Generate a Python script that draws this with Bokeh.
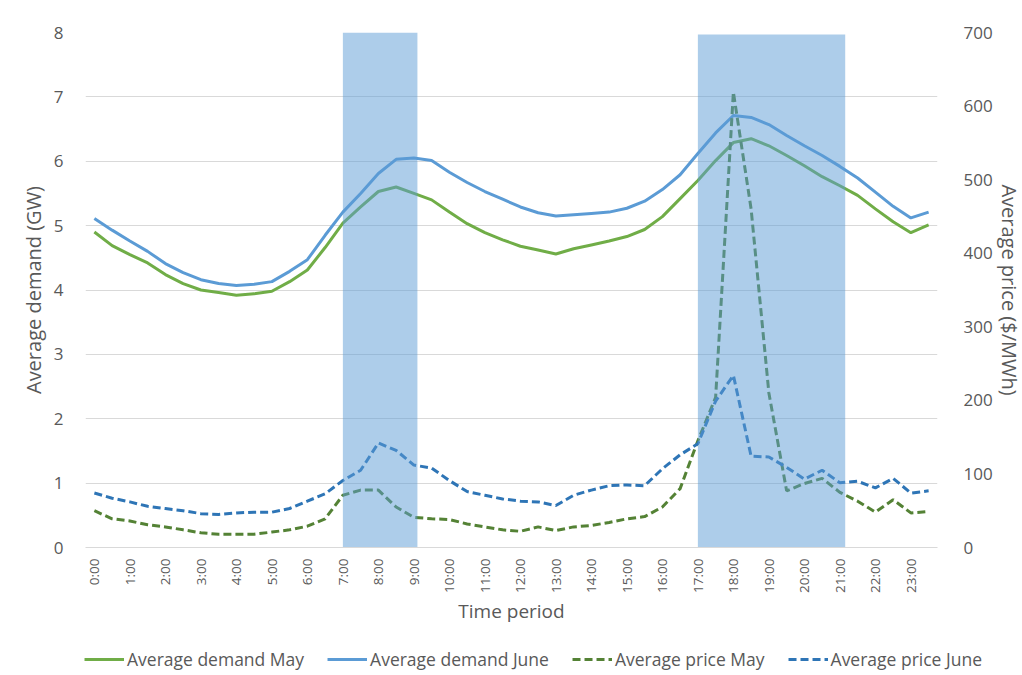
import math

from bokeh.embed import file_html
from bokeh.layouts import column
from bokeh.models import (ColumnDataSource, FixedTicker, Legend, LegendItem,
                          LinearAxis, Range1d)
from bokeh.plotting import figure
from bokeh.resources import INLINE

# Half-hourly periods 0:00 ... 23:30 (index 0..47); hour labels shown on the axis
hour_labels = ["0:00", "1:00", "2:00", "3:00", "4:00", "5:00", "6:00", "7:00",
               "8:00", "9:00", "10:00", "11:00", "12:00", "13:00", "14:00",
               "15:00", "16:00", "17:00", "18:00", "19:00", "20:00", "21:00",
               "22:00", "23:00"]
period_index = list(range(48))

demand_may = [4.90, 4.69, 4.55, 4.42, 4.24, 4.10, 4.00, 3.96, 3.92, 3.94, 3.98, 4.13,
              4.31, 4.66, 5.04, 5.29, 5.53, 5.60, 5.50, 5.40, 5.21, 5.03, 4.89, 4.78,
              4.68, 4.62, 4.56, 4.64, 4.70, 4.76, 4.83, 4.94, 5.14, 5.42, 5.70, 6.01,
              6.29, 6.35, 6.24, 6.09, 5.93, 5.76, 5.62, 5.47, 5.26, 5.06, 4.89, 5.01]

demand_june = [5.11, 4.93, 4.76, 4.60, 4.41, 4.27, 4.16, 4.10, 4.07, 4.09, 4.13, 4.29,
               4.47, 4.85, 5.21, 5.50, 5.81, 6.03, 6.05, 6.01, 5.83, 5.67, 5.53, 5.41,
               5.29, 5.20, 5.15, 5.17, 5.19, 5.21, 5.27, 5.38, 5.56, 5.79, 6.12, 6.44,
               6.71, 6.68, 6.57, 6.40, 6.24, 6.09, 5.92, 5.74, 5.52, 5.30, 5.12, 5.21]

price_may = [50, 39, 36, 31, 28, 24, 20, 18, 18, 18, 21, 24,
             29, 39, 71, 78, 78, 55, 41, 39, 38, 32, 28, 24,
             22, 28, 23, 28, 30, 34, 39, 42, 55, 80, 145, 204,
             619, 460, 210, 77, 87, 94, 75, 63, 48, 65, 47, 49]

price_june = [74, 67, 62, 56, 53, 50, 46, 45, 47, 48, 48, 53,
              63, 73, 91, 105, 142, 132, 112, 108, 91, 76, 71, 66,
              63, 62, 57, 71, 78, 84, 85, 84, 107, 126, 141, 199,
              234, 124, 123, 109, 93, 105, 88, 90, 81, 94, 74, 77]

# Peak windows (in period-index units) and their heights (GW)
peak_left = [14.0, 34.0]
peak_right = [18.2, 42.3]
peak_top = [8.0, 7.97]

series_names = ["Average demand May", "Average demand June",
                "Average price May", "Average price June"]
series_colors = ["#70AD47", "#5B9BD5", "#548235", "#2E75B6"]
series_dash = ["solid", "solid", "8 4", "8 4"]

FONT = "Open Sans"
GREY = "#595959"

src = ColumnDataSource(dict(x=period_index, dmay=demand_may, djune=demand_june,
                            pmay=price_may, pjune=price_june))

p = figure(frame_width=852, frame_height=515, output_backend="svg",
           toolbar_location=None,
           x_range=Range1d(-0.5, 47.5), y_range=Range1d(0, 8),
           min_border_left=85, min_border_right=85,
           min_border_top=32, min_border_bottom=95)
p.outline_line_color = None
p.background_fill_color = "white"
p.border_fill_color = "white"
p.extra_y_ranges = {"price": Range1d(0, 700)}

# Grid
p.xgrid.grid_line_color = None
p.ygrid.grid_line_color = "#D9D9D9"
p.ygrid.grid_line_width = 1

# Bottom axis: hour labels on every other half-hour period
xa = p.xaxis[0]
xa.ticker = FixedTicker(ticks=period_index[::2])
xa.major_label_overrides = {i * 2: lab for i, lab in enumerate(hour_labels)}
xa.major_label_orientation = math.pi / 2
xa.major_label_text_font = FONT
xa.major_label_text_font_size = "13.5px"
xa.major_label_text_color = GREY
xa.major_label_standoff = 5
xa.axis_line_color = "#D9D9D9"
xa.major_tick_line_color = None
xa.minor_tick_line_color = None
xa.axis_label = "Time period"
xa.axis_label_text_font = FONT
xa.axis_label_text_font_size = "19px"
xa.axis_label_text_font_style = "normal"
xa.axis_label_text_color = GREY
xa.axis_label_standoff = 2

# Left axis: demand
ya = p.yaxis[0]
ya.ticker = FixedTicker(ticks=[0, 1, 2, 3, 4, 5, 6, 7, 8])
ya.axis_line_color = None
ya.major_tick_line_color = None
ya.minor_tick_line_color = None
ya.major_label_text_font = FONT
ya.major_label_text_font_size = "17px"
ya.major_label_text_color = GREY
ya.major_label_standoff = 16
ya.axis_label = "Average demand (GW)"
ya.axis_label_text_font = FONT
ya.axis_label_text_font_size = "20px"
ya.axis_label_text_font_style = "normal"
ya.axis_label_text_color = GREY
ya.axis_label_standoff = 4

# Right axis: price
ra = LinearAxis(y_range_name="price",
                ticker=FixedTicker(ticks=[0, 100, 200, 300, 400, 500, 600, 700]))
ra.axis_line_color = None
ra.major_tick_line_color = None
ra.minor_tick_line_color = None
ra.major_label_text_font = FONT
ra.major_label_text_font_size = "17px"
ra.major_label_text_color = GREY
ra.major_label_standoff = 20
ra.axis_label = "Average price ($/MWh)"
ra.axis_label_text_font = FONT
ra.axis_label_text_font_size = "20px"
ra.axis_label_text_font_style = "normal"
ra.axis_label_text_color = GREY
ra.axis_label_standoff = 0
p.add_layout(ra, "right")

# Series
p.line("x", "dmay", source=src, line_color=series_colors[0], line_width=3,
       line_dash=series_dash[0])
p.line("x", "djune", source=src, line_color=series_colors[1], line_width=3,
       line_dash=series_dash[1])
p.line("x", "pmay", source=src, y_range_name="price", line_color=series_colors[2],
       line_width=3, line_dash=series_dash[2])
p.line("x", "pjune", source=src, y_range_name="price", line_color=series_colors[3],
       line_width=3, line_dash=series_dash[3])

# Peak-period shading, drawn over the series
p.quad(left=peak_left, right=peak_right, bottom=[0, 0], top=peak_top,
       fill_color="#5B9BD5", fill_alpha=0.5, line_color=None)

# Legend strip underneath the chart; its frame is offset so the centred
# legend sits under the plotting area
leg = figure(width=1022, height=33, output_backend="svg", toolbar_location=None,
             x_axis_type=None, y_axis_type=None,
             min_border_left=44, min_border_right=0,
             min_border_top=0, min_border_bottom=0,
             x_range=Range1d(0, 1), y_range=Range1d(0, 1))
leg.outline_line_color = None
leg.grid.grid_line_color = None
leg.background_fill_color = "white"
leg.border_fill_color = "white"

# Keep the strip's frame independent of the chart's frame in the column
for fig in (p, leg):
    if "frame_align" in fig.properties():
        fig.frame_align = False

# Key-only renderers: their points lie outside the strip's visible range
key_src = ColumnDataSource(dict(x=[5, 6], y=[5, 5]))
items = []
for name, color, dash in zip(series_names, series_colors, series_dash):
    r = leg.line("x", "y", source=key_src, line_color=color, line_width=3,
                 line_dash=dash)
    items.append(LegendItem(label=name, renderers=[r]))

legend = Legend(items=items, orientation="horizontal", location="center")
legend.border_line_color = None
legend.background_fill_alpha = 0
legend.label_text_font = FONT
legend.label_text_font_size = "17.5px"
legend.label_text_color = GREY
legend.glyph_width = 40
legend.glyph_height = 20
legend.label_standoff = 3
legend.spacing = 23
legend.padding = 0
legend.margin = 0
leg.add_layout(legend)

layout = column(p, leg, spacing=0)
open("out.html", "w").write(file_html(layout, INLINE))
